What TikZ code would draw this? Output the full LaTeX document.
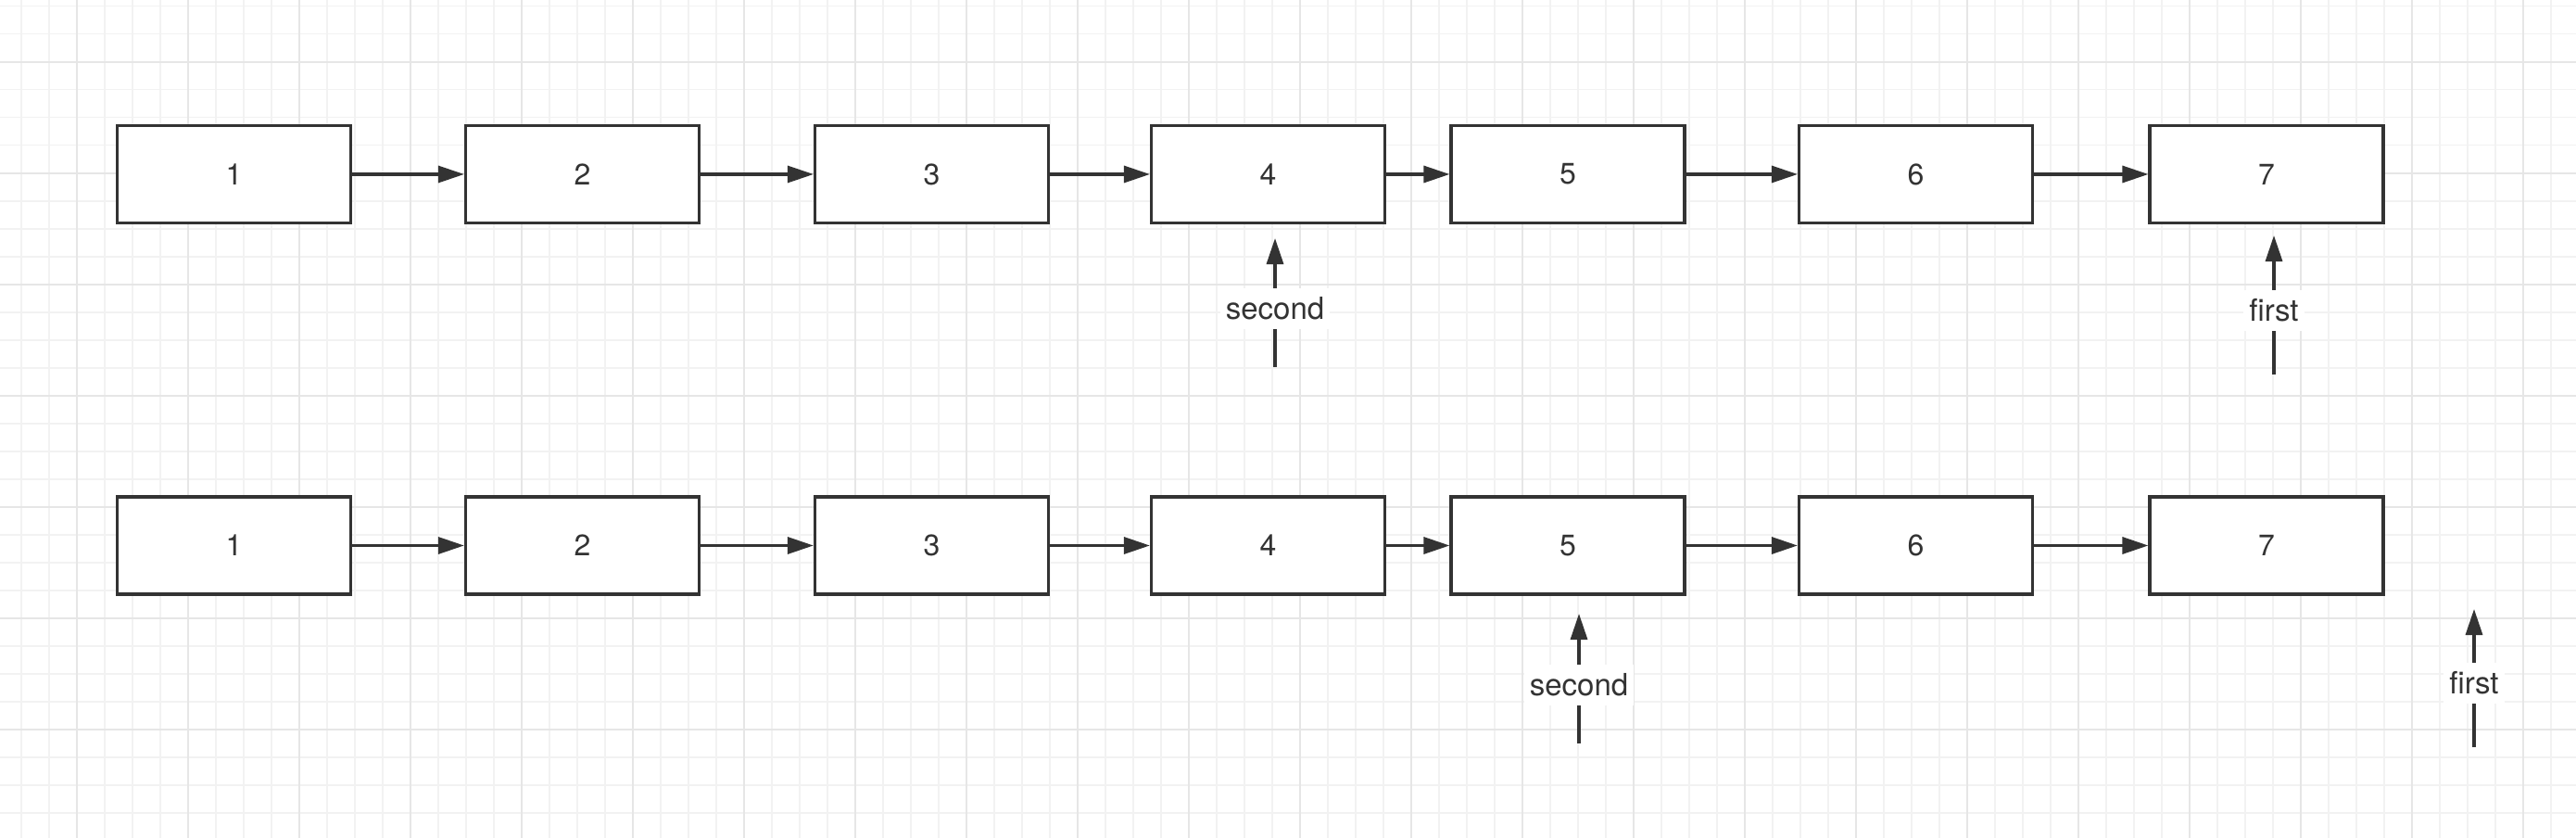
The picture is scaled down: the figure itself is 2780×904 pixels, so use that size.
\documentclass[tikz,border=0pt]{standalone}
\usepackage{fontspec}
\setmainfont{TeX Gyre Heros}
\usetikzlibrary{arrows.meta}
\definecolor{ink}{HTML}{333333}
\definecolor{gridminor}{HTML}{F2F2F2}
\definecolor{gridmajor}{HTML}{E6E6E6}
\begin{document}
\begin{tikzpicture}[x=0.5pt,y=-0.5pt,
  box/.style={draw=ink, line width=1.6pt, fill=white, minimum width=126pt, minimum height=52.5pt,
    inner sep=0pt, font=\fontsize{16}{19}\selectfont, text=ink},
  link/.style={draw=ink, line width=1.6pt, -{Triangle[length=14pt,width=9pt]}},
  lbl/.style={fill=white, text=ink, font=\fontsize{16.5}{20}\selectfont, inner xsep=3pt, inner ysep=0pt, minimum height=22pt}]
\useasboundingbox (0,0) rectangle (2780,904);
\fill[white] (0,0) rectangle (2780,904);
\begin{scope}
\clip (0,0) rectangle (2780,904);
\foreach \i in {0,...,92} \draw[gridminor, line width=0.8pt] ({23+30*\i},0) -- ({23+30*\i},904);
\foreach \i in {0,...,30} \draw[gridminor, line width=0.8pt] (0,{6.7+30*\i}) -- (2780,{6.7+30*\i});
\foreach \i in {0,...,22} \draw[gridmajor, line width=1.1pt] ({83+120*\i},0) -- ({83+120*\i},904);
\foreach \i in {0,...,7} \draw[gridmajor, line width=1.1pt] (0,{66.7+120*\i}) -- (2780,{66.7+120*\i});
\end{scope}

% row 1
\node[box] (a1) at (252.5,188) {1};
\node[box] (a2) at (628.5,188) {2};
\node[box] (a3) at (1005.5,188) {3};
\node[box] (a4) at (1368.5,188) {4};
\node[box] (a5) at (1692,188) {5};
\node[box] (a6) at (2067.5,188) {6};
\node[box] (a7) at (2446,188) {7};
\draw[link] (a1) -- (a2);
\draw[link] (a2) -- (a3);
\draw[link] (a3) -- (a4);
\draw[link] (a4) -- (a5);
\draw[link] (a5) -- (a6);
\draw[link] (a6) -- (a7);

% row 2
\node[box] (b1) at (252.5,588.5) {1};
\node[box] (b2) at (628.5,588.5) {2};
\node[box] (b3) at (1005.5,588.5) {3};
\node[box] (b4) at (1368.5,588.5) {4};
\node[box] (b5) at (1692,588.5) {5};
\node[box] (b6) at (2067.5,588.5) {6};
\node[box] (b7) at (2446,588.5) {7};
\draw[link] (b1) -- (b2);
\draw[link] (b2) -- (b3);
\draw[link] (b3) -- (b4);
\draw[link] (b4) -- (b5);
\draw[link] (b5) -- (b6);
\draw[link] (b6) -- (b7);

% pointers
\coordinate (s1from) at (1376,396);
\coordinate (s1to) at (1376,257);
\draw[link] (s1from) -- (s1to) node[lbl, pos=0.453] (s1lbl) {second};
\coordinate (f1from) at (2454,404);
\coordinate (f1to) at (2454,254);
\draw[link] (f1from) -- (f1to) node[lbl, pos=0.46] (f1lbl) {first};
\coordinate (s2from) at (1704,802);
\coordinate (s2to) at (1704,662);
\draw[link] (s2from) -- (s2to) node[lbl, pos=0.45] (s2lbl) {second};
\coordinate (f2from) at (2670,806);
\coordinate (f2to) at (2670,657);
\draw[link] (f2from) -- (f2to) node[lbl, pos=0.463] (f2lbl) {first};
\end{tikzpicture}
\end{document}
